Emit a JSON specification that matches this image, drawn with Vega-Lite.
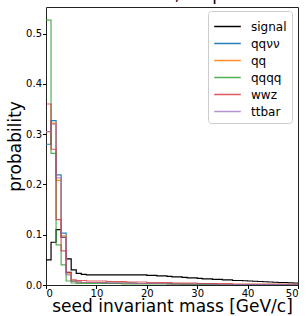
{
  "$schema": "https://vega.github.io/schema/vega-lite/v6.json",
  "autosize": {"type": "none"},
  "width": 252,
  "height": 278,
  "padding": {"left": 46, "top": 7, "right": 8, "bottom": 31},
  "background": "white",
  "title": {"text": "30 GeV, 10 ps", "fontSize": 17, "font": "DejaVu Sans", "fontWeight": "normal", "anchor": "middle", "baseline": "alphabetic", "offset": 0, "dy": 10, "color": "black"},
  "data": {"values": [
    {"x": 0, "signal": 0.05, "qqνν": 0.28, "qq": 0.305, "qqqq": 0.527, "wwz": 0.36, "ttbar": 0.305},
    {"x": 1, "signal": 0.085, "qqνν": 0.327, "qq": 0.322, "qqqq": 0.262, "wwz": 0.27, "ttbar": 0.32},
    {"x": 2, "signal": 0.11, "qqνν": 0.219, "qq": 0.208, "qqqq": 0.08, "wwz": 0.13, "ttbar": 0.213},
    {"x": 3, "signal": 0.095, "qqνν": 0.103, "qq": 0.098, "qqqq": 0.04, "wwz": 0.068, "ttbar": 0.095},
    {"x": 4, "signal": 0.052, "qqνν": 0.025, "qq": 0.022, "qqqq": 0.008, "wwz": 0.025, "ttbar": 0.02},
    {"x": 5, "signal": 0.03, "qqνν": 0.008, "qq": 0.007, "qqqq": 0.004, "wwz": 0.01, "ttbar": 0.007},
    {"x": 6, "signal": 0.023, "qqνν": 0.006, "qq": 0.006, "qqqq": 0.003, "wwz": 0.009, "ttbar": 0.006},
    {"x": 7, "signal": 0.021, "qqνν": 0.005, "qq": 0.005, "qqqq": 0.003, "wwz": 0.009, "ttbar": 0.005},
    {"x": 8, "signal": 0.02, "qqνν": 0.005, "qq": 0.005, "qqqq": 0.003, "wwz": 0.008, "ttbar": 0.005},
    {"x": 9, "signal": 0.02, "qqνν": 0.005, "qq": 0.005, "qqqq": 0.003, "wwz": 0.008, "ttbar": 0.005},
    {"x": 10, "signal": 0.02, "qqνν": 0.005, "qq": 0.005, "qqqq": 0.003, "wwz": 0.008, "ttbar": 0.005},
    {"x": 11, "signal": 0.02, "qqνν": 0.005, "qq": 0.004, "qqqq": 0.003, "wwz": 0.008, "ttbar": 0.004},
    {"x": 12, "signal": 0.02, "qqνν": 0.004, "qq": 0.004, "qqqq": 0.003, "wwz": 0.007, "ttbar": 0.004},
    {"x": 13, "signal": 0.02, "qqνν": 0.004, "qq": 0.004, "qqqq": 0.003, "wwz": 0.007, "ttbar": 0.004},
    {"x": 14, "signal": 0.02, "qqνν": 0.004, "qq": 0.004, "qqqq": 0.003, "wwz": 0.007, "ttbar": 0.004},
    {"x": 15, "signal": 0.02, "qqνν": 0.004, "qq": 0.004, "qqqq": 0.002, "wwz": 0.007, "ttbar": 0.004},
    {"x": 16, "signal": 0.02, "qqνν": 0.004, "qq": 0.004, "qqqq": 0.002, "wwz": 0.006, "ttbar": 0.004},
    {"x": 17, "signal": 0.02, "qqνν": 0.004, "qq": 0.003, "qqqq": 0.002, "wwz": 0.006, "ttbar": 0.003},
    {"x": 18, "signal": 0.02, "qqνν": 0.003, "qq": 0.003, "qqqq": 0.002, "wwz": 0.006, "ttbar": 0.003},
    {"x": 19, "signal": 0.02, "qqνν": 0.003, "qq": 0.003, "qqqq": 0.002, "wwz": 0.006, "ttbar": 0.003},
    {"x": 20, "signal": 0.019, "qqνν": 0.003, "qq": 0.003, "qqqq": 0.002, "wwz": 0.005, "ttbar": 0.003},
    {"x": 21, "signal": 0.019, "qqνν": 0.003, "qq": 0.003, "qqqq": 0.002, "wwz": 0.005, "ttbar": 0.003},
    {"x": 22, "signal": 0.018, "qqνν": 0.003, "qq": 0.003, "qqqq": 0.002, "wwz": 0.005, "ttbar": 0.003},
    {"x": 23, "signal": 0.018, "qqνν": 0.003, "qq": 0.003, "qqqq": 0.002, "wwz": 0.005, "ttbar": 0.003},
    {"x": 24, "signal": 0.017, "qqνν": 0.003, "qq": 0.002, "qqqq": 0.002, "wwz": 0.005, "ttbar": 0.002},
    {"x": 25, "signal": 0.016, "qqνν": 0.002, "qq": 0.002, "qqqq": 0.002, "wwz": 0.004, "ttbar": 0.002},
    {"x": 26, "signal": 0.016, "qqνν": 0.002, "qq": 0.002, "qqqq": 0.002, "wwz": 0.004, "ttbar": 0.002},
    {"x": 27, "signal": 0.015, "qqνν": 0.002, "qq": 0.002, "qqqq": 0.001, "wwz": 0.004, "ttbar": 0.002},
    {"x": 28, "signal": 0.014, "qqνν": 0.002, "qq": 0.002, "qqqq": 0.001, "wwz": 0.004, "ttbar": 0.002},
    {"x": 29, "signal": 0.014, "qqνν": 0.002, "qq": 0.002, "qqqq": 0.001, "wwz": 0.004, "ttbar": 0.002},
    {"x": 30, "signal": 0.013, "qqνν": 0.002, "qq": 0.002, "qqqq": 0.001, "wwz": 0.003, "ttbar": 0.002},
    {"x": 31, "signal": 0.012, "qqνν": 0.002, "qq": 0.002, "qqqq": 0.001, "wwz": 0.003, "ttbar": 0.002},
    {"x": 32, "signal": 0.012, "qqνν": 0.002, "qq": 0.002, "qqqq": 0.001, "wwz": 0.003, "ttbar": 0.002},
    {"x": 33, "signal": 0.011, "qqνν": 0.002, "qq": 0.001, "qqqq": 0.001, "wwz": 0.003, "ttbar": 0.001},
    {"x": 34, "signal": 0.011, "qqνν": 0.001, "qq": 0.001, "qqqq": 0.001, "wwz": 0.003, "ttbar": 0.001},
    {"x": 35, "signal": 0.01, "qqνν": 0.001, "qq": 0.001, "qqqq": 0.001, "wwz": 0.003, "ttbar": 0.001},
    {"x": 36, "signal": 0.01, "qqνν": 0.001, "qq": 0.001, "qqqq": 0.001, "wwz": 0.003, "ttbar": 0.001},
    {"x": 37, "signal": 0.009, "qqνν": 0.001, "qq": 0.001, "qqqq": 0.001, "wwz": 0.002, "ttbar": 0.001},
    {"x": 38, "signal": 0.009, "qqνν": 0.001, "qq": 0.001, "qqqq": 0.001, "wwz": 0.002, "ttbar": 0.001},
    {"x": 39, "signal": 0.0085, "qqνν": 0.001, "qq": 0.001, "qqqq": 0.001, "wwz": 0.002, "ttbar": 0.001},
    {"x": 40, "signal": 0.008, "qqνν": 0.001, "qq": 0.001, "qqqq": 0.001, "wwz": 0.002, "ttbar": 0.001},
    {"x": 41, "signal": 0.0075, "qqνν": 0.001, "qq": 0.001, "qqqq": 0.001, "wwz": 0.002, "ttbar": 0.001},
    {"x": 42, "signal": 0.007, "qqνν": 0.001, "qq": 0.001, "qqqq": 0.001, "wwz": 0.002, "ttbar": 0.001},
    {"x": 43, "signal": 0.0065, "qqνν": 0.001, "qq": 0.001, "qqqq": 0.001, "wwz": 0.002, "ttbar": 0.001},
    {"x": 44, "signal": 0.006, "qqνν": 0.001, "qq": 0.001, "qqqq": 0.001, "wwz": 0.002, "ttbar": 0.001},
    {"x": 45, "signal": 0.0055, "qqνν": 0.001, "qq": 0.001, "qqqq": 0.001, "wwz": 0.002, "ttbar": 0.001},
    {"x": 46, "signal": 0.005, "qqνν": 0.001, "qq": 0.001, "qqqq": 0.001, "wwz": 0.002, "ttbar": 0.001},
    {"x": 47, "signal": 0.005, "qqνν": 0.001, "qq": 0.001, "qqqq": 0.001, "wwz": 0.002, "ttbar": 0.001},
    {"x": 48, "signal": 0.0045, "qqνν": 0.001, "qq": 0.001, "qqqq": 0.001, "wwz": 0.002, "ttbar": 0.001},
    {"x": 49, "signal": 0.004, "qqνν": 0.001, "qq": 0.001, "qqqq": 0.001, "wwz": 0.002, "ttbar": 0.001},
    {"x": 50, "signal": 0.004, "qqνν": 0.001, "qq": 0.001, "qqqq": 0.001, "wwz": 0.002, "ttbar": 0.001}
  ]},
  "transform": [
    {"fold": ["signal", "qqνν", "qq", "qqqq", "wwz", "ttbar"], "as": ["process", "prob"]}
  ],
  "mark": {"type": "line", "interpolate": "step-after", "strokeWidth": 1.2, "clip": true},
  "encoding": {
    "x": {"field": "x", "type": "quantitative", "scale": {"domain": [0, 50], "nice": false},
      "axis": {"values": [0, 10, 20, 30, 40, 50], "title": "seed invariant mass [GeV/c]"}},
    "y": {"field": "prob", "type": "quantitative", "scale": {"domain": [0, 0.553], "nice": false, "zero": true},
      "axis": {"values": [0, 0.1, 0.2, 0.3, 0.4, 0.5], "format": ".1f", "title": "probability"}},
    "color": {"field": "process", "type": "nominal",
      "scale": {"domain": ["signal", "qqνν", "qq", "qqqq", "wwz", "ttbar"], "range": ["#000000", "#1f77b4", "#ff7f0e", "#2ca02c", "#d62728", "#9467bd"]},
      "legend": {"title": null, "orient": "none", "legendX": 162, "legendY": 4, "symbolType": "M-1.4,0H1.4", "symbolSize": 361, "symbolStrokeWidth": 1.5,
        "symbolOffset": 4, "labelFontSize": 12, "labelFont": "DejaVu Sans", "labelColor": "black", "labelOffset": 13, "rowPadding": -0.2,
        "fillColor": "white", "strokeColor": "#cccccc", "cornerRadius": 3, "padding": 5}},
    "opacity": {"field": "process", "type": "nominal",
      "scale": {"domain": ["signal", "qqνν", "qq", "qqqq", "wwz", "ttbar"], "range": [1, 0.7, 0.7, 0.7, 0.7, 0.7]}, "legend": null},
    "order": {"field": "process"}
  },
  "config": {
    "font": "DejaVu Sans",
    "view": {"stroke": "#222222", "strokeWidth": 1},
    "axis": {"grid": false, "domain": false, "tickColor": "black", "tickSize": 3.5, "labelFontSize": 10, "labelColor": "black",
      "labelFont": "DejaVu Sans", "titleFont": "DejaVu Sans", "titleFontSize": 17, "titleFontWeight": "normal", "titleColor": "black"},
    "axisX": {"labelPadding": 0, "titlePadding": 0},
    "axisY": {"labelPadding": 1, "titlePadding": 1}
  }
}
